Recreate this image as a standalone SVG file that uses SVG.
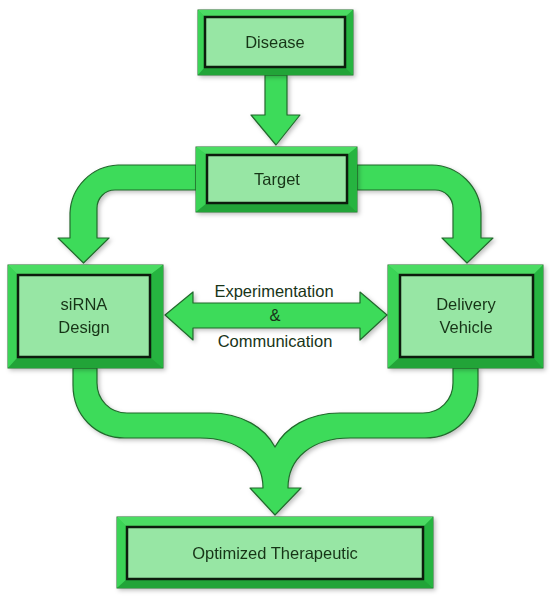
<svg xmlns="http://www.w3.org/2000/svg" width="550" height="599" viewBox="0 0 550 599">
<defs>
<filter id="sh" x="-10%" y="-10%" width="130%" height="130%">
<feDropShadow dx="2" dy="2" stdDeviation="2" flood-color="#000" flood-opacity="0.25"/>
</filter>
<style>
.frame{fill:#31cb4c;stroke:#1e6e2b;stroke-width:1}
.bt{fill:#4cdc64}
.bl{fill:#3ad356}
.br{fill:#26b43f}
.bb{fill:#20a438}
.inner{fill:#97e6a4;stroke:#0c1a0c;stroke-width:2.5}
.arrow{fill:#3cdb5a;stroke:#23692d;stroke-width:1.2;stroke-linejoin:round}
.lbl{font-family:"Liberation Sans",Arial,sans-serif;font-size:16.5px;fill:#183418;text-anchor:middle}
</style>
</defs>
<rect width="550" height="599" fill="#ffffff"/>
<g id="connectors" filter="url(#sh)">
<path class="arrow" d="M265,75 H287 V115 H300 L276,145 L251,115 H265 Z"/>
<path class="arrow" d="M196,165 H118 A50,50 0 0 0 70,213 V238 H58 L83.5,263 L109,238 H97 V208 A18,18 0 0 1 115,190 H196 Z"/>
<path class="arrow" d="M357,165 H432 A50,50 0 0 1 481,213 V238 H493 L467,263 L442,238 H453 V208 A18,18 0 0 0 435,190 H357 Z"/>
<path class="arrow" d="M165,315 L193,292 V303 H360 V292 L387,315 L360,340 V328 H193 V340 Z"/>
<path class="arrow" d="M73,368 V385 C73,415 95,438 125,438 H200 C238,438 263,458 263,488 H250 L275,515 L301,488 H288 C288,458 312,438 350,438 H425 C455,438 478,415 478,385 V368 H453 V383 C453,400 440,413 423,413 H340 C308,413 285,428 275,447 C265,428 242,413 210,413 H127 C110,413 97,400 97,383 V368 Z"/>
</g>
<g id="disease" filter="url(#sh)">
<rect class="frame" x="198" y="10" width="155" height="65"/>
<polygon class="bt" points="198,10 353,10 345,17 205,17"/>
<polygon class="bl" points="198,10 205,17 205,67 198,75"/>
<polygon class="br" points="353,10 353,75 345,67 345,17"/>
<polygon class="bb" points="198,75 353,75 345,67 205,67"/>
<rect class="inner" x="205" y="17" width="140" height="50"/>
<text class="lbl" x="275" y="48">Disease</text>
</g>
<g id="target" filter="url(#sh)">
<rect class="frame" x="196" y="147" width="161" height="65"/>
<polygon class="bt" points="196,147 357,147 347,155 207,155"/>
<polygon class="bl" points="196,147 207,155 207,203 196,212"/>
<polygon class="br" points="357,147 357,212 347,203 347,155"/>
<polygon class="bb" points="196,212 357,212 347,203 207,203"/>
<rect class="inner" x="207" y="155" width="140" height="48"/>
<text class="lbl" x="277" y="185">Target</text>
</g>
<g id="sirna" filter="url(#sh)">
<rect class="frame" x="8" y="265" width="155" height="103"/>
<polygon class="bt" points="8,265 163,265 150,275 18,275"/>
<polygon class="bl" points="8,265 18,275 18,357 8,368"/>
<polygon class="br" points="163,265 163,368 150,357 150,275"/>
<polygon class="bb" points="8,368 163,368 150,357 18,357"/>
<rect class="inner" x="18" y="275" width="132" height="82"/>
<text class="lbl" x="84" y="310">siRNA</text>
<text class="lbl" x="84" y="333">Design</text>
</g>
<g id="delivery" filter="url(#sh)">
<rect class="frame" x="388" y="265" width="155" height="103"/>
<polygon class="bt" points="388,265 543,265 533,275 400,275"/>
<polygon class="bl" points="388,265 400,275 400,357 388,368"/>
<polygon class="br" points="543,265 543,368 533,357 533,275"/>
<polygon class="bb" points="388,368 543,368 533,357 400,357"/>
<rect class="inner" x="400" y="275" width="133" height="82"/>
<text class="lbl" x="466" y="310">Delivery</text>
<text class="lbl" x="466" y="333">Vehicle</text>
</g>
<g id="exchange">
<text class="lbl" x="274" y="297">Experimentation</text>
<text class="lbl" x="275" y="321">&amp;</text>
<text class="lbl" x="275" y="347">Communication</text>
</g>
<g id="optimized" filter="url(#sh)">
<rect class="frame" x="117" y="517" width="316" height="71"/>
<polygon class="bt" points="117,517 433,517 423,527 127,527"/>
<polygon class="bl" points="117,517 127,527 127,579 117,588"/>
<polygon class="br" points="433,517 433,588 423,579 423,527"/>
<polygon class="bb" points="117,588 433,588 423,579 127,579"/>
<rect class="inner" x="127" y="527" width="296" height="52"/>
<text class="lbl" x="275" y="559">Optimized Therapeutic</text>
</g>
</svg>
